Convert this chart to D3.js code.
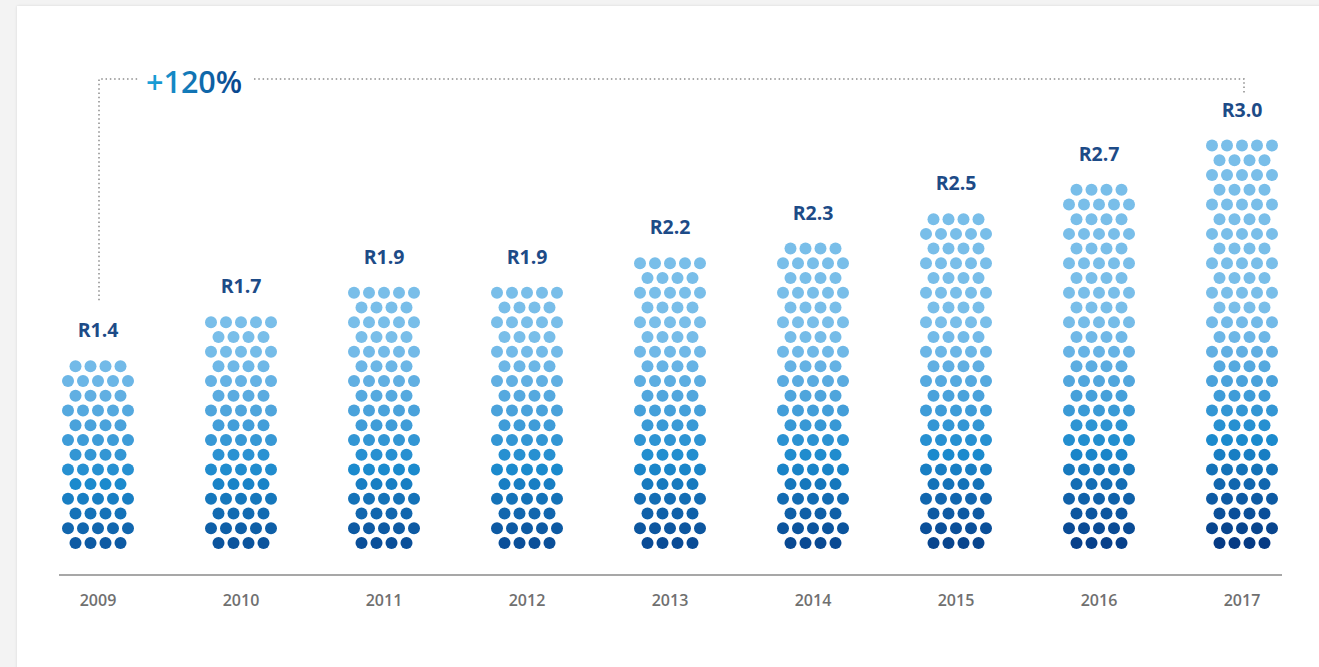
<!DOCTYPE html>
<html>
<head>
<meta charset="utf-8">
<script src="https://cdn.jsdelivr.net/npm/d3@7"></script>
<style>
  html, body { margin: 0; padding: 0; background: #f3f3f3; }
  svg { display: block; }
</style>
</head>
<body>
<svg id="chart" width="1319" height="667"></svg>
<script>
// Annual values (R billions) per year
const years  = ["2009", "2010", "2011", "2012", "2013", "2014", "2015", "2016", "2017"];
const values = [1.4, 1.7, 1.9, 1.9, 2.2, 2.3, 2.5, 2.7, 3.0];
const labels = ["R1.4", "R1.7", "R1.9", "R1.9", "R2.2", "R2.3", "R2.5", "R2.7", "R3.0"];
const growthLabel = "+120%";

const W = 1319, H = 667;
const svg = d3.select("#chart");

// white card on a light grey page
const defs = svg.append("defs");
const shadow = defs.append("filter").attr("id", "cardShadow")
  .attr("x", "-5%").attr("y", "-5%").attr("width", "110%").attr("height", "110%");
shadow.append("feGaussianBlur").attr("in", "SourceAlpha").attr("stdDeviation", 1.5);
shadow.append("feOffset").attr("dx", 0).attr("dy", 0).attr("result", "b");
shadow.append("feComponentTransfer").append("feFuncA").attr("type", "linear").attr("slope", 0.12);
const merge = shadow.append("feMerge");
merge.append("feMergeNode");
merge.append("feMergeNode").attr("in", "SourceGraphic");

svg.append("rect").attr("x", 0).attr("y", 0).attr("width", W).attr("height", H).attr("fill", "#f3f3f3");
svg.append("rect").attr("x", 17).attr("y", 6).attr("width", W).attr("height", H)
  .attr("fill", "#ffffff").attr("filter", "url(#cardShadow)");

// geometry of the dot columns
const bottomY = 543;     // centre of lowest dot row
const rowStep = 14.72;   // vertical distance between rows
const colStep = 15;      // horizontal distance between dots
const dotR = 6;
const rowsPerUnit = 9.25;

const x = d3.scalePoint().domain(years).range([98, 1242]);
const y = d3.scaleLinear().domain([0, 3]).range([bottomY, bottomY - 3 * rowsPerUnit * rowStep]);

const data = years.map((yr, i) => {
  const rows = Math.round((bottomY - y(values[i])) / rowStep);
  return { year: yr, value: values[i], label: labels[i], rows };
});
const maxRows = d3.max(data, d => d.rows);
const minRows = d3.min(data, d => d.rows);

// colour ramp from the deep navy base up to a pale sky blue
const ramp = d3.scaleLinear()
  .domain([0, 3, 7, 11, 14, 16])
  .range(["#053a84", "#0d5aa3", "#1b8acd", "#4aa2db", "#6cb6e6", "#79bee9"])
  .interpolate(d3.interpolateRgb)
  .clamp(true);

function dotColor(row, rows) {
  const shift = 3 * (maxRows - rows) / (maxRows - minRows);
  return ramp(row + shift);
}

// axis baseline
svg.append("line")
  .attr("x1", 59).attr("x2", 1282)
  .attr("y1", 575).attr("y2", 575)
  .attr("stroke", "#8a8a8a").attr("stroke-width", 1.4);

const cols = svg.append("g").selectAll("g.col").data(data).join("g")
  .attr("class", "col")
  .attr("transform", d => `translate(${x(d.year)},0)`);

cols.each(function (d) {
  const dots = [];
  for (let r = 0; r < d.rows; r++) {
    const n = r % 2 === 0 ? 4 : 5;
    for (let k = 0; k < n; k++) {
      dots.push({ r, dx: (k - (n - 1) / 2) * colStep });
    }
  }
  d3.select(this).selectAll("circle").data(dots).join("circle")
    .attr("cx", p => p.dx)
    .attr("cy", p => bottomY - p.r * rowStep)
    .attr("r", dotR)
    .attr("fill", p => dotColor(p.r, d.rows));
});

// value labels above each column
cols.append("text")
  .attr("x", 0)
  .attr("y", d => bottomY - (d.rows - 1) * rowStep - 29)
  .attr("text-anchor", "middle")
  .attr("font-family", "'Open Sans', sans-serif")
  .attr("font-weight", 700)
  .attr("font-size", 19.5)
  .attr("fill", "#1d4b87")
  .text(d => d.label);

// year labels
svg.append("g").selectAll("text").data(data).join("text")
  .attr("x", d => x(d.year))
  .attr("y", 606)
  .attr("text-anchor", "middle")
  .attr("font-family", "'Open Sans', sans-serif")
  .attr("font-weight", 600)
  .attr("font-size", 16)
  .attr("fill", "#707070")
  .text(d => d.year);

// growth bracket from first to last year
const first = data[0], last = data[data.length - 1];
const bracketY = 79;
const firstTop = bottomY - (first.rows - 1) * rowStep - 66;
const lastTop = bottomY - (last.rows - 1) * rowStep - 52;
const dotted = { stroke: "#8c8c8c", "stroke-width": 1.5, "stroke-dasharray": "1.5 2.8", fill: "none" };
function dottedPath(pts) {
  const p = svg.append("path").attr("d", d3.line()(pts));
  Object.entries(dotted).forEach(([k, v]) => p.attr(k, v));
}
const x0 = x(first.year) + 1, x1 = x(last.year) + 2;
dottedPath([[x0, firstTop], [x0, bracketY], [138, bracketY]]);
dottedPath([[254, bracketY], [x1, bracketY], [x1, lastTop]]);

const tg = defs.append("linearGradient").attr("id", "growthFill")
  .attr("x1", "0%").attr("x2", "100%").attr("y1", "0%").attr("y2", "0%");
tg.append("stop").attr("offset", "0%").attr("stop-color", "#1aa4db");
tg.append("stop").attr("offset", "100%").attr("stop-color", "#08428a");

svg.append("text")
  .attr("x", 146)
  .attr("y", 93)
  .attr("font-family", "'Open Sans', sans-serif")
  .attr("font-weight", 600)
  .attr("font-size", 30.5)
  .attr("fill", "url(#growthFill)")
  .text(growthLabel);
</script>
</body>
</html>
